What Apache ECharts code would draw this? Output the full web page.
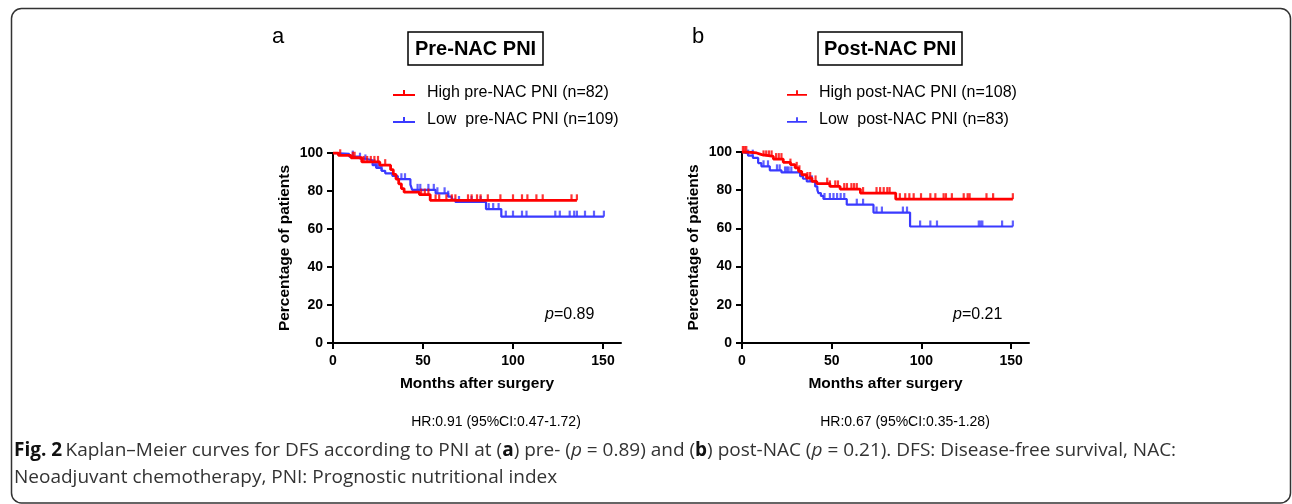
<!DOCTYPE html>
<html>
<head>
<meta charset="utf-8">
<script src="https://cdn.jsdelivr.net/npm/echarts@6/dist/echarts.min.js"></script>
<style>
  html, body { margin: 0; padding: 0; background: #fff; }
  #chart { width: 1292px; height: 504px; }
</style>
</head>
<body>
<div id="chart"></div>
<script>
// Kaplan–Meier step data: event times (months) and survival (%) after each event
const preHighTimes = [0, 3, 10, 16, 26, 32, 33.5, 35, 36.5, 38, 39.5, 48, 54]
const preHighSurv = [100, 98.8, 97.5, 95.3, 93.6, 91.2, 88.8, 86.3, 83.8, 81.3, 79.4, 78.1, 75.1]
const preHighEnd = 135.5
const preHighCensor = [4, 11, 12, 17, 19, 21, 23, 25, 29, 49, 51, 53, 57, 59, 63, 66, 68, 75, 77, 80, 82, 86, 93, 100, 105, 108, 113, 116.5, 132.5, 135.5]

const preLowTimes = [0, 1, 9, 15, 18, 22, 24, 27, 29, 33, 36, 43, 44, 57, 64, 66, 68, 85, 93.5]
const preLowSurv = [100, 99.5, 98.1, 97.0, 96.1, 93.6, 92.1, 90.6, 89.3, 87.9, 86.2, 83.3, 80.6, 78.8, 77.0, 75.5, 74.2, 70.5, 66.5]
const preLowEnd = 150.5
const preLowCensor = [11, 15, 18, 23, 24, 25, 26, 27, 38, 40, 47, 48.5, 53, 56, 58, 62, 64, 70, 77, 82, 86.5, 89, 92, 96, 100, 105, 107.5, 123.5, 126, 131.5, 134, 135.5, 140, 145, 150.5]

const postHighTimes = [0, 2.6, 8.2, 11, 17.5, 23, 27, 29.6, 31.5, 33.3, 36, 39, 41.7, 49, 54.7, 66, 85.7]
const postHighSurv = [100, 99.5, 98.6, 97.7, 96.3, 94.6, 93.4, 91.7, 89.9, 88.1, 86.4, 84.6, 83.4, 82.0, 80.6, 78.5, 75.3]
const postHighEnd = 151
const postHighCensor = [0.5, 1.5, 2.4, 12, 13.5, 15, 16.5, 19, 20.5, 22, 27, 30.5, 32, 36.5, 38, 41, 47.5, 49, 52, 53.5, 57, 58.5, 61, 62.5, 64, 67.5, 75, 77, 79, 81, 82.3, 88, 91, 93.3, 95.7, 99.8, 105, 107.8, 112.4, 113.7, 117, 123.6, 125.8, 126.9, 136.3, 140, 151]

const postLowTimes = [0, 0.6, 3.4, 6.1, 9, 10.8, 15.5, 22, 32.4, 34, 36.1, 40.8, 42, 42.6, 44, 45.4, 58.4, 73.3, 93.7]
const postLowSurv = [100, 99.2, 98.1, 96.9, 94.2, 92.5, 90.4, 89.3, 87.3, 86.0, 84.6, 82.0, 80.2, 78.5, 77.0, 75.4, 72.4, 68.3, 61.0]
const postLowEnd = 151
const postLowCensor = [3.4, 6, 12, 14.5, 19.5, 21, 24, 25, 26, 27.5, 38, 39, 46, 49, 51, 53, 55, 57, 64, 67.5, 75, 78, 89.7, 92, 99.3, 105, 108.7, 132, 133, 134, 145, 151]

const xTicks = [0, 50, 100, 150]
const panelTitles = ['Pre-NAC PNI', 'Post-NAC PNI']
const panelLetters = ['a', 'b']
const seriesNames = [
  ['High pre-NAC PNI (n=82)', 'Low  pre-NAC PNI (n=109)'],
  ['High post-NAC PNI (n=108)', 'Low  post-NAC PNI (n=83)'],
]
const pValues = ['0.89', '0.21']
const hrTexts = ['HR:0.91 (95%CI:0.47-1.72)', 'HR:0.67 (95%CI:0.35-1.28)']

const RED = '#ff0000'
const BLUE = '#3a3aff'
const FONT = '"Liberation Sans", Arial, sans-serif'
const CAPTION_FONT = '"Open Sans", sans-serif'
const LEGEND_ICON = 'path://M0,4h22v2h-22z M10,0h2v4h-2z'

function kmPoints(times, surv, end) {
  const pts = times.map((t, i) => [t, surv[i]])
  pts.push([end, surv[surv.length - 1]])
  return pts
}

function survAt(times, surv, t) {
  let v = surv[0]
  for (let i = 0; i < times.length; i++) {
    if (times[i] <= t) v = surv[i]
  }
  return v
}

function censorPoints(times, surv, censor) {
  return censor.map(t => [t, survAt(times, surv, t)])
}

function curve(name, idx, times, surv, end, censor, color, width) {
  return [
    {
      name,
      type: 'line',
      xAxisIndex: idx,
      yAxisIndex: idx,
      step: 'end',
      showSymbol: false,
      silent: true,
      data: kmPoints(times, surv, end),
      lineStyle: { color, width },
      itemStyle: { color },
      z: color === RED ? 4 : 3,
    },
    {
      name: name + ' censored',
      type: 'scatter',
      xAxisIndex: idx,
      yAxisIndex: idx,
      symbol: 'rect',
      symbolSize: [2.2, 6],
      symbolOffset: [0, -3],
      silent: true,
      data: censorPoints(times, surv, censor),
      itemStyle: { color },
      z: color === RED ? 4 : 3,
    },
  ]
}

function xAxisDef(idx) {
  return {
    type: 'value',
    gridIndex: idx,
    min: 0,
    max: 160,
    interval: 50,
    name: 'Months after surgery',
    nameLocation: 'middle',
    nameGap: 33,
    nameTextStyle: { fontFamily: FONT, fontWeight: 'bold', fontSize: 15.5, color: '#000' },
    splitLine: { show: false },
    axisLine: { lineStyle: { color: '#000', width: 2 } },
    axisTick: { length: 6, lineStyle: { color: '#000', width: 2 }, customValues: xTicks },
    axisLabel: { fontFamily: FONT, fontWeight: 'bold', fontSize: 14, color: '#000', margin: 11, customValues: xTicks },
  }
}

function yAxisDef(idx) {
  return {
    type: 'value',
    gridIndex: idx,
    min: 0,
    max: 100,
    interval: 20,
    name: 'Percentage of patients',
    nameLocation: 'middle',
    nameGap: 40,
    nameTextStyle: { fontFamily: FONT, fontWeight: 'bold', fontSize: 15.5, color: '#000' },
    splitLine: { show: false },
    axisLine: { show: true, lineStyle: { color: '#000', width: 2 } },
    axisTick: { show: true, length: 6, lineStyle: { color: '#000', width: 2 } },
    axisLabel: { fontFamily: FONT, fontWeight: 'bold', fontSize: 14, color: '#000', margin: 10 },
  }
}

function legendDef(idx, left, iconWidth) {
  return {
    data: seriesNames[idx].map(n => ({ name: n, icon: LEGEND_ICON })),
    orient: 'vertical',
    left,
    top: 85,
    padding: 0,
    itemWidth: iconWidth,
    itemHeight: 6,
    itemGap: 11,
    selectedMode: false,
    textStyle: { fontFamily: FONT, fontSize: 16, color: '#000', padding: [0, 0, 0, 7] },
  }
}

function titleDef(idx, left, pad) {
  return {
    text: panelTitles[idx],
    left,
    top: 32,
    padding: [7, pad, 6, pad],
    borderColor: '#000',
    borderWidth: 1.5,
    textStyle: { fontFamily: FONT, fontWeight: 'bold', fontSize: 20, color: '#000' },
  }
}

function pText(value) {
  return {
    text: '{i|p}{n|=' + value + '}',
    rich: {
      i: { fontFamily: FONT, fontStyle: 'italic', fontSize: 16, fill: '#000' },
      n: { fontFamily: FONT, fontSize: 16, fill: '#000' },
    },
  }
}

const chart = echarts.init(document.getElementById('chart'))

const option = {
  animation: false,
  backgroundColor: '#fff',
  title: [titleDef(0, 408, 7), titleDef(1, 818, 6)],
  legend: [legendDef(0, 393, 22), legendDef(1, 787, 20)],
  grid: [
    { left: 333, top: 153, width: 288, height: 190 },
    { left: 742, top: 152, width: 287, height: 191 },
  ],
  xAxis: [xAxisDef(0), xAxisDef(1)],
  yAxis: [yAxisDef(0), yAxisDef(1)],
  series: [
    ...curve(seriesNames[0][1], 0, preLowTimes, preLowSurv, preLowEnd, preLowCensor, BLUE, 2.2),
    ...curve(seriesNames[0][0], 0, preHighTimes, preHighSurv, preHighEnd, preHighCensor, RED, 2.8),
    ...curve(seriesNames[1][1], 1, postLowTimes, postLowSurv, postLowEnd, postLowCensor, BLUE, 2.2),
    ...curve(seriesNames[1][0], 1, postHighTimes, postHighSurv, postHighEnd, postHighCensor, RED, 2.8),
  ],
  graphic: [
    // outer frame
    {
      type: 'rect',
      shape: { x: 11.5, y: 8.5, width: 1279, height: 494.5, r: 10 },
      style: { fill: 'none', stroke: '#333', lineWidth: 1.5 },
      silent: true,
    },
    { type: 'text', left: 272, top: 26, style: { text: panelLetters[0], font: '22px ' + FONT, fill: '#000' } },
    { type: 'text', left: 692, top: 26, style: { text: panelLetters[1], font: '22px ' + FONT, fill: '#000' } },
    { type: 'text', left: 545, top: 307, style: pText(pValues[0]) },
    { type: 'text', left: 953, top: 307, style: pText(pValues[1]) },
    { type: 'text', x: 496, y: 422, style: { text: hrTexts[0], font: '14px ' + FONT, fill: '#000', align: 'center', verticalAlign: 'middle' } },
    { type: 'text', x: 905, y: 422, style: { text: hrTexts[1], font: '14px ' + FONT, fill: '#000', align: 'center', verticalAlign: 'middle' } },
    {
      type: 'text', left: 14, top: 441,
      style: {
        text: '{b|Fig. 2} {t|Kaplan–Meier curves for DFS according to PNI at (}{b|a}{t|) pre- (}{i|p}{t| = 0.89) and (}{b|b}{t|) post-NAC (}{i|p}{t| = 0.21). DFS: Disease-free survival, NAC:}\n{t|Neoadjuvant chemotherapy, PNI: Prognostic nutritional index}',
        rich: {
          b: { fontFamily: CAPTION_FONT, fontWeight: 'bold', fontSize: 19, fill: '#111', lineHeight: 27 },
          t: { fontFamily: CAPTION_FONT, fontSize: 19, fill: '#333', lineHeight: 27 },
          i: { fontFamily: CAPTION_FONT, fontStyle: 'italic', fontSize: 19, fill: '#333', lineHeight: 27 },
        },
      },
    },
  ],
}

chart.setOption(option)
window.addEventListener('resize', () => chart.resize())
</script>
</body>
</html>
